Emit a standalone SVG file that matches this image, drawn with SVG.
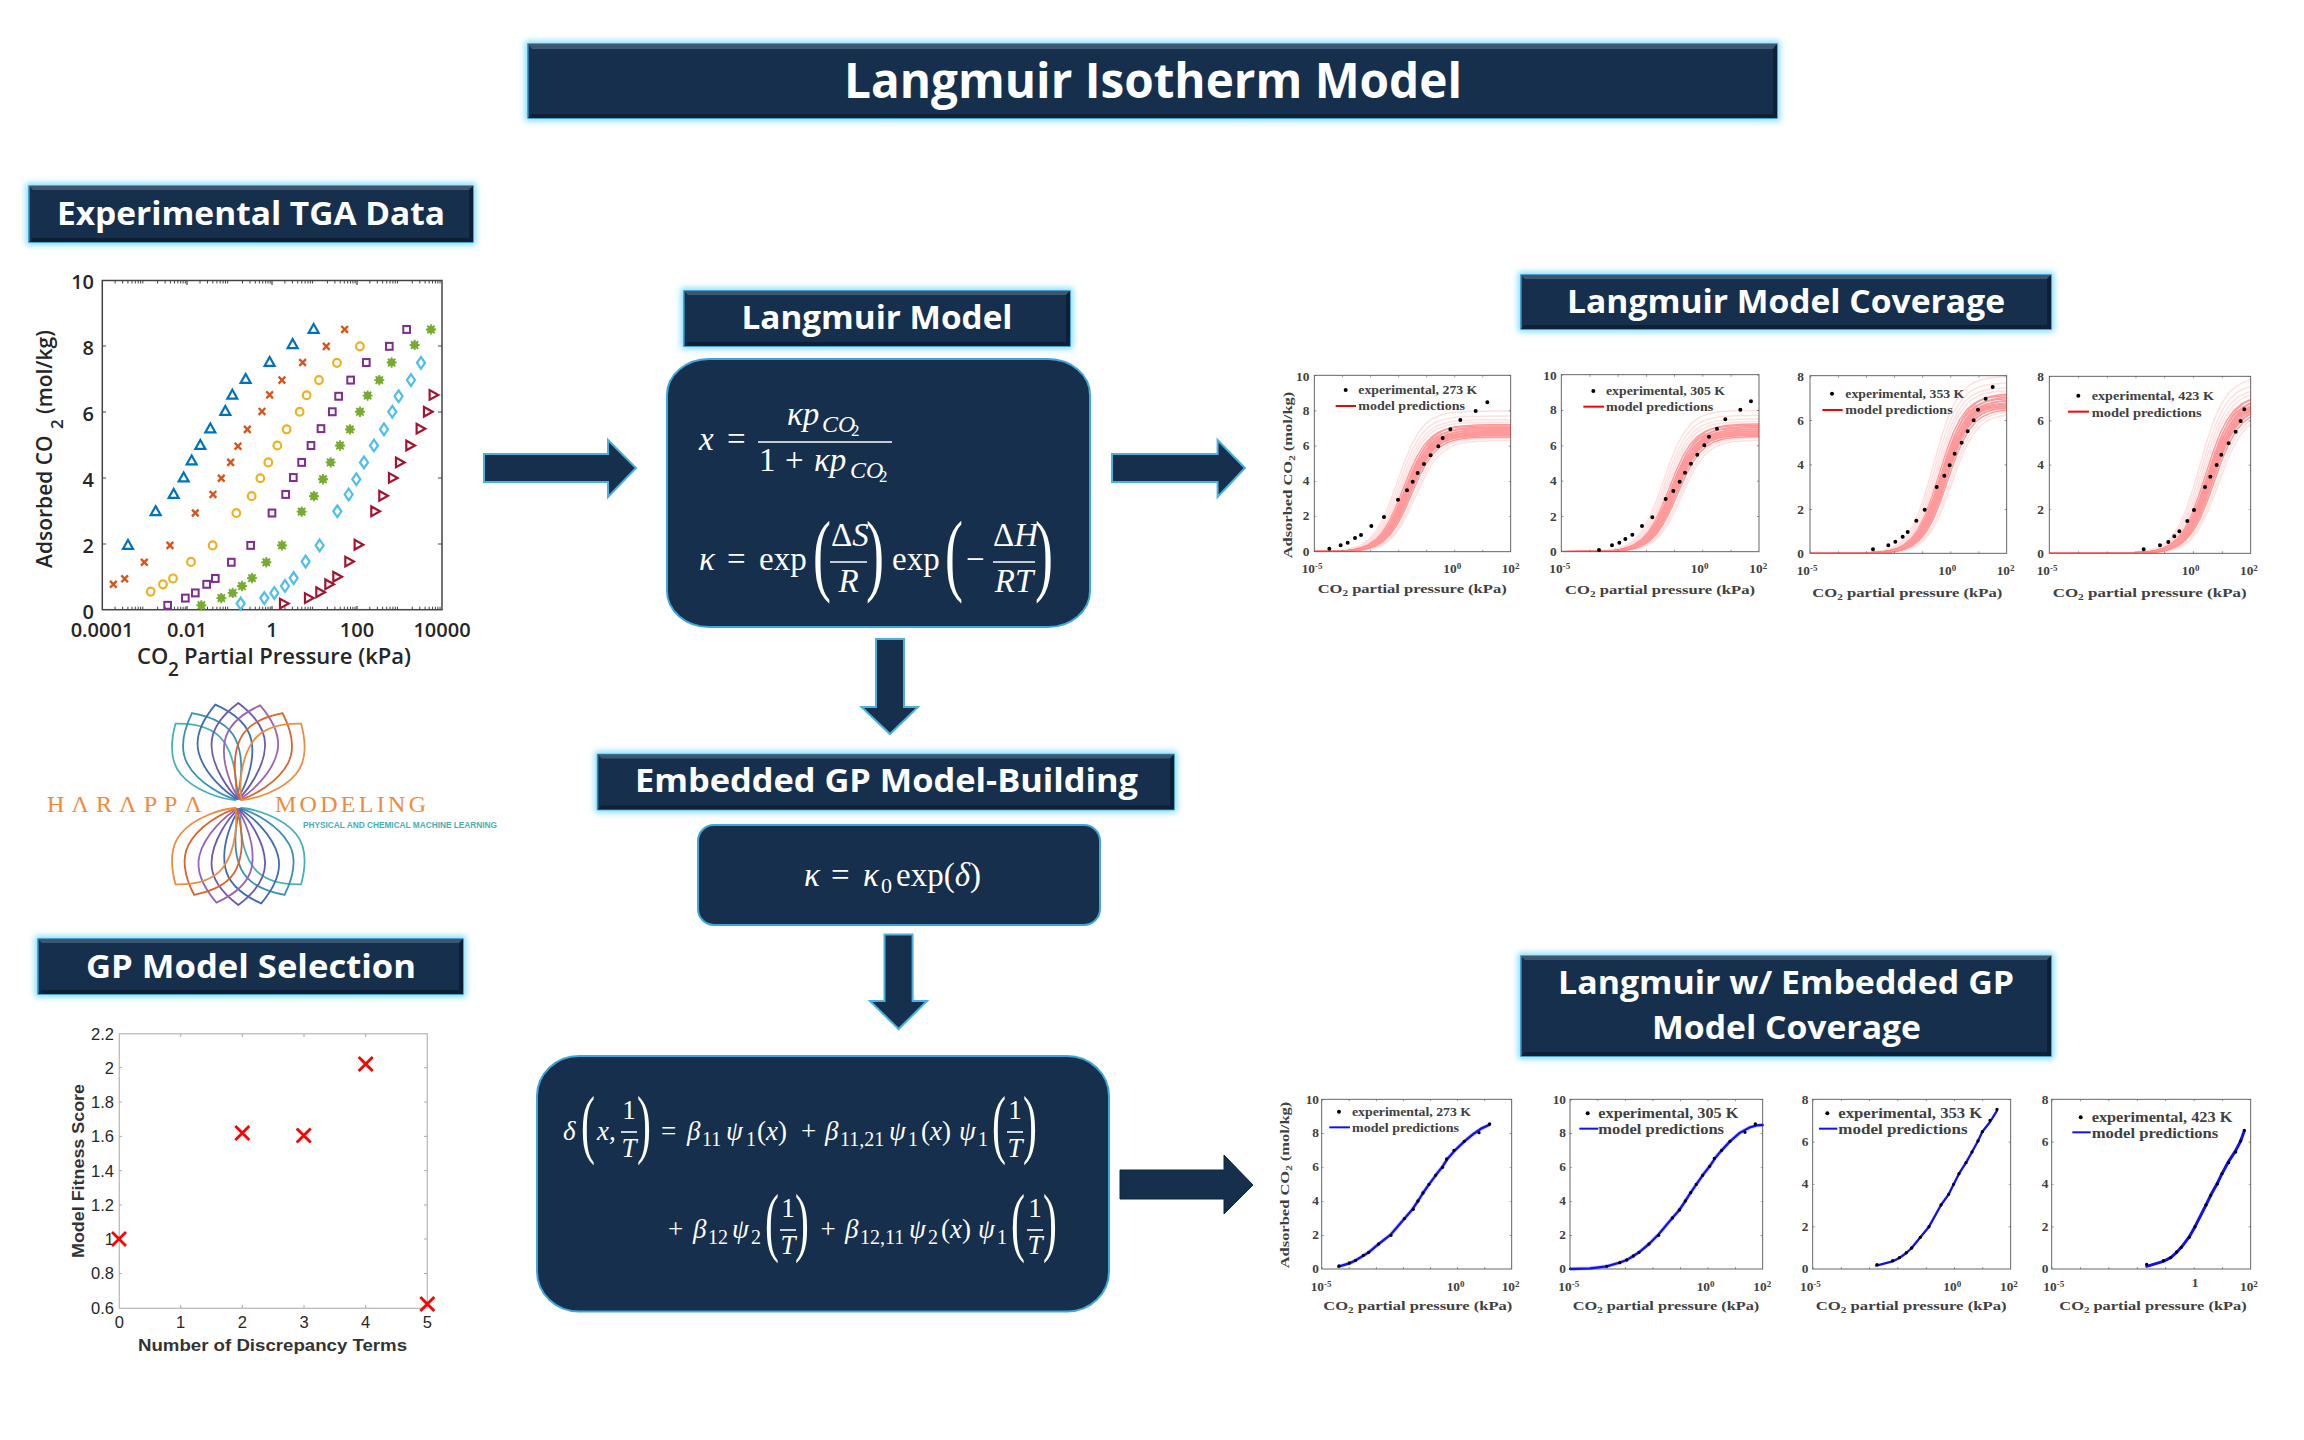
<svg xmlns="http://www.w3.org/2000/svg" width="2304" height="1440" viewBox="0 0 2304 1440">
<style>
text{font-family:"Liberation Sans",sans-serif}
.hg{fill:#7fdcfb;filter:url(#blur)}
.hb{fill:#152f4d;stroke:#2f8fc0;stroke-width:1.5}
.ht{fill:#3e566f}
.hd{fill:#0d2036}
.ht2{font-family:"Open Sans","Noto Sans",sans-serif;font-weight:700;fill:#fff;text-anchor:middle}
.box{fill:#152f4d;stroke:#3fa6d8;stroke-width:2}
.arr{fill:#152f4d;stroke:#4ab0e0;stroke-width:2}
.m,.m tspan{font-family:"Liberation Serif",serif;fill:#fff}
.m{font-size:33px}
.m2{font-size:27px}
.i{font-style:italic}
.bar{stroke:#fff;stroke-width:1.6}
.par{font-family:"Liberation Serif",serif;fill:#fff}
.k{font-family:"Open Sans",sans-serif;font-weight:600;fill:#262626;font-size:20px}
.g{fill:#262626;font-size:16.5px}
.s,.s tspan{font-family:"Liberation Serif",serif;font-weight:700;fill:#404040}
.s{font-size:40px}
.e{text-anchor:end}
.l{font-size:36px}
.fr{fill:#fff;stroke:#666;stroke-width:3}
.tk{fill:none;stroke:#666;stroke-width:6}
.dots{fill:none;stroke:#000;stroke-width:12;stroke-linecap:round}
.c{fill:none;stroke:#f00;vector-effect:non-scaling-stroke;stroke-width:1.5px}
.st{opacity:.4}
.fa{opacity:.12}
.lr{stroke:#f00;stroke-width:6;fill:none}
.lb{stroke:#1212e8;stroke-width:6;fill:none}
.bc{stroke:#1212e8;stroke-width:7;fill:none;stroke-linejoin:round;stroke-linecap:round}
.bh{stroke:#1212e8;stroke-width:12;opacity:.2;fill:none;stroke-linejoin:round}
.mk{fill:none;stroke:none}
.p{fill:none;vector-effect:non-scaling-stroke;stroke-width:1.8px}
</style>
<defs>
<filter id="blur" x="-5%" y="-20%" width="110%" height="140%"><feGaussianBlur stdDeviation="3"/></filter>
<filter id="sf" x="-5%" y="-5%" width="110%" height="110%"><feGaussianBlur stdDeviation="1.5"/></filter>
<marker id="mt" markerUnits="userSpaceOnUse" viewBox="-25 -25 50 50" markerWidth="50" markerHeight="50" orient="0"><path d="M-15 12H15L0-14Z" fill="none" stroke="#0072bd" stroke-width="6.5"/></marker>
<marker id="mx" markerUnits="userSpaceOnUse" viewBox="-25 -25 50 50" markerWidth="50" markerHeight="50" orient="0"><path d="M-10-10 10 10M-10 10 10-10" fill="none" stroke="#d95319" stroke-width="7"/></marker>
<marker id="mo" markerUnits="userSpaceOnUse" viewBox="-25 -25 50 50" markerWidth="50" markerHeight="50" orient="0"><circle r="11.5" fill="none" stroke="#edb120" stroke-width="6.5"/></marker>
<marker id="ms" markerUnits="userSpaceOnUse" viewBox="-25 -25 50 50" markerWidth="50" markerHeight="50" orient="0"><rect x="-10" y="-10" width="20" height="20" fill="none" stroke="#7e2f8e" stroke-width="6"/></marker>
<marker id="mg" markerUnits="userSpaceOnUse" viewBox="-25 -25 50 50" markerWidth="50" markerHeight="50" orient="0"><g stroke="#77ac30" stroke-width="5.5"><circle r="11" fill="#77ac30" stroke="none"/><path d="M-15 0H15M0-15V15M-11-11 11 11M-11 11 11-11"/></g></marker>
<marker id="md" markerUnits="userSpaceOnUse" viewBox="-25 -25 50 50" markerWidth="50" markerHeight="50" orient="0"><path d="M0-17 12 0 0 17-12 0Z" fill="none" stroke="#4dbeee" stroke-width="6.5"/></marker>
<marker id="mr" markerUnits="userSpaceOnUse" viewBox="-25 -25 50 50" markerWidth="50" markerHeight="50" orient="0"><path d="M-12-14V14L14 0Z" fill="none" stroke="#a2142f" stroke-width="6.5"/></marker>
<path id="minor" d="M12.8 0v3M20.3 0v3M25.6 0v3M29.7 0v3M33 0v3M35.9 0v3M38.3 0v3M40.5 0v3M55.3 0v3M62.8 0v3M68.1 0v3M72.2 0v3M75.5 0v3M78.4 0v3M80.8 0v3M83 0v3" stroke="#444" stroke-width="1" fill="none"/>
<path id="lang" class="c" d="M-6 0L-4 .0001-3 .001-2.5 .0032-2 .0099-1.75 .0175-1.5 .0307-1.25 .0532-1 .0909-.75 .151-.5 .24-.25 .36 0 .5 .25 .64 .5 .76 .75 .849 1 .909 1.25 .947 1.5 .969 1.75 .9825 2 .99 2.5 .9968 3 .999 4 .9999 6 1"/>
<g id="fam">
<g class="st">
<use href="#lang" transform="translate(-.15 0) scale(1 -1.02)"/><use href="#lang" transform="translate(-.1 0) scale(1 -1)"/><use href="#lang" transform="translate(-.05 0) scale(1 -.985)"/><use href="#lang" transform="scale(1 -.97)"/><use href="#lang" transform="translate(.05 0) scale(1 -.96)"/><use href="#lang" transform="translate(.1 0) scale(1 -.945)"/><use href="#lang" transform="translate(.15 0) scale(1 -.93)"/><use href="#lang" transform="translate(.02 0) scale(1 -1.01)"/><use href="#lang" transform="translate(-.02 0) scale(1 -.95)"/><use href="#lang" transform="translate(.08 0) scale(1 -.99)"/><use href="#lang" transform="translate(-.08 0) scale(1 -.97)"/><use href="#lang" transform="translate(.12 0) scale(1 -.975)"/><use href="#lang" transform="translate(-.12 0) scale(1 -.955)"/><use href="#lang" transform="translate(-.04 0) scale(1 -1.03)"/><use href="#lang" transform="translate(.03 0) scale(1 -.94)"/>
</g>
<g class="fa">
<use href="#lang" transform="translate(-.35 0) scale(1 -1.14)"/><use href="#lang" transform="translate(-.3 0) scale(1 -1.1)"/><use href="#lang" transform="translate(-.25 0) scale(1 -1.07)"/><use href="#lang" transform="translate(-.2 0) scale(1 -1.05)"/><use href="#lang" transform="translate(.25 0) scale(1 -.92)"/><use href="#lang" transform="translate(.3 0) scale(1 -.9)"/>
</g>
</g>
<path id="petal" class="p" d="M0-1C-.12-.91-.27-.76-.265-.58-.26-.36-.09-.13 0-.05 .09-.13 .26-.36 .265-.58 .27-.76 .12-.91 0-1Z"/>
<g id="petals">
<use href="#petal" stroke="#45b0b5" transform="rotate(-38) scale(102)"/><use href="#petal" stroke="#3a8fb5" transform="rotate(-27) scale(102)"/><use href="#petal" stroke="#3f6cb3" transform="rotate(-13) scale(102)"/><use href="#petal" stroke="#6a5ab0" transform="scale(101)"/><use href="#petal" stroke="#9a62b8" transform="rotate(12.5) scale(101)"/><use href="#petal" stroke="#d9652e" transform="rotate(26) scale(101)"/><use href="#petal" stroke="#f08a3c" transform="rotate(38) scale(102)"/>
</g>
<clipPath id="ca"><rect x="133" y="46" width="589" height="529"/></clipPath>
<clipPath id="cb"><rect x="874" y="44" width="593" height="531"/></clipPath>
<clipPath id="cc"><rect x="90" y="47" width="590" height="533"/></clipPath>
<clipPath id="cd"><rect x="808" y="49" width="604" height="531"/></clipPath>
</defs>
<rect width="2304" height="1440" fill="#fff"/>

<g id="title">
<rect class="hg" x="525" y="41" width="1255" height="80"/>
<rect class="hb" x="528" y="44" width="1249" height="74"/>
<path class="ht" d="M528 44H1777L1773 49H532Z"/><path class="hd" d="M1777 44V118H528L532 114H1773V49Z"/>
<text class="ht2" x="1153" y="98" font-size="48" textLength="618" lengthAdjust="spacingAndGlyphs">Langmuir Isotherm Model</text>
</g>

<g id="header-tga">
<rect class="hg" x="26" y="183" width="450" height="62"/>
<rect class="hb" x="29" y="186" width="444" height="56"/>
<path class="ht" d="M29 186H473L469 190H33Z"/><path class="hd" d="M473 186V242H29L33 238H469V190Z"/>
<text class="ht2" x="251" y="225" font-size="33" textLength="388" lengthAdjust="spacingAndGlyphs">Experimental TGA Data</text>
</g>

<g id="chart-tga">
<rect x="102.3" y="280.5" width="339.7" height="329.2" fill="#fff" stroke="#444" stroke-width="1.5"/>
<use href="#minor" x="102.3" y="280.5"/><use href="#minor" x="187.2" y="280.5"/><use href="#minor" x="272.1" y="280.5"/><use href="#minor" x="357" y="280.5"/>
<use href="#minor" x="102.3" y="606.7"/><use href="#minor" x="187.2" y="606.7"/><use href="#minor" x="272.1" y="606.7"/><use href="#minor" x="357" y="606.7"/>
<path d="M187 281v4M272 281v4M357 281v4M187 610v-4M272 610v-4M357 610v-4M102 346h4M102 412h4M102 478h4M102 544h4M442 346h-4M442 412h-4M442 478h-4M442 544h-4" stroke="#444" stroke-width="1.2" fill="none"/>
<g transform="translate(0 170) scale(.3333 .3444)">
<path class="mk" marker-start="url(#mt)" marker-mid="url(#mt)" marker-end="url(#mt)" d="M384 1088L467 990 521 940 551 892 575 843 601 798 631 750 676 699 697 652 737 606 809 557 878 505 941 461"/>
<path class="mk" marker-start="url(#mx)" marker-mid="url(#mx)" marker-end="url(#mx)" d="M340 1203L374 1187 433 1139 510 1090 586 996 639 942 664 895 692 849 714 802 742 753 786 701 809 653 846 610 908 559 979 512 1034 463"/>
<path class="mk" marker-start="url(#mo)" marker-mid="url(#mo)" marker-end="url(#mo)" d="M452 1224L489 1203 519 1186 573 1138 638 1090 709 996 755 947 781 895 805 849 832 800 860 753 899 702 920 654 957 610 1011 560 1080 512"/>
<path class="mk" marker-start="url(#ms)" marker-mid="url(#ms)" marker-end="url(#ms)" d="M503 1264L556 1243 586 1228 620 1203 646 1186 694 1139 752 1090 816 996 857 942 880 893 905 849 933 800 963 751 997 702 1016 657 1052 610 1099 559 1168 512 1220 463"/>
<path class="mk" marker-start="url(#mg)" marker-mid="url(#mg)" marker-end="url(#mg)" d="M604 1264L664 1243 698 1228 726 1208 756 1185 799 1139 846 1090 905 992 942 947 969 898 992 849 1020 800 1050 753 1080 702 1103 655 1138 610 1175 559 1244 508 1293 463"/>
<path class="mk" marker-start="url(#md)" marker-mid="url(#md)" marker-end="url(#md)" d="M722 1259L793 1243 823 1228 855 1208 881 1185 917 1137 959 1090 1012 991 1046 942 1069 898 1092 849 1122 800 1152 753 1177 702 1196 657 1233 610 1263 560"/>
<path class="mk" marker-start="url(#mr)" marker-mid="url(#mr)" marker-end="url(#mr)" d="M852 1259L927 1243 961 1226 988 1203 1012 1181 1048 1137 1076 1088 1126 991 1150 946 1179 894 1200 849 1231 800 1262 751 1284 702 1301 653"/>
</g>
<text class="k e" x="94" y="289">10</text><text class="k e" x="94" y="355">8</text><text class="k e" x="94" y="420.5">6</text><text class="k e" x="94" y="486.5">4</text><text class="k e" x="94" y="552.5">2</text><text class="k e" x="94" y="618.5">0</text>
<text class="k" x="102" y="637" text-anchor="middle">0.0001</text><text class="k" x="187" y="637" text-anchor="middle">0.01</text><text class="k" x="272" y="637" text-anchor="middle">1</text><text class="k" x="357" y="637" text-anchor="middle">100</text><text class="k" x="442" y="637" text-anchor="middle">10000</text>
<text class="k" y="664" style="font-size:22px"><tspan x="137">CO</tspan><tspan x="168" dy="12" font-size="19">2</tspan><tspan x="184" dy="-12">Partial Pressure (kPa)</tspan></text>
<text class="k" transform="translate(52 568) rotate(-90)" style="font-size:21px"><tspan x="0">Adsorbed CO</tspan><tspan x="139" dy="11" font-size="17">2</tspan><tspan x="154" dy="-11">(mol/kg)</tspan></text>
</g>

<g id="logo">
<use href="#petals" transform="translate(238.3 804)"/>
<use href="#petals" transform="translate(238.3 804) rotate(180)"/>
<text x="47" y="811.5" font-size="24" fill="#f08a3c" textLength="155" style="font-family:'Liberation Serif',serif">HΛRΛPPΛ</text>
<text x="275" y="811.5" font-size="24" fill="#f08a3c" textLength="151" style="font-family:'Liberation Serif',serif">MODELING</text>
<text x="303" y="827.5" font-size="9.5" font-weight="700" fill="#45b0b5" textLength="194" lengthAdjust="spacingAndGlyphs">PHYSICAL AND CHEMICAL MACHINE LEARNING</text>
</g>

<g id="header-gp">
<rect class="hg" x="35" y="936" width="431" height="61"/>
<rect class="hb" x="38" y="939" width="425" height="55"/>
<path class="ht" d="M38 939H463L459 943H42Z"/><path class="hd" d="M463 939V994H38L42 990H459V943Z"/>
<text class="ht2" x="251" y="978" font-size="32" textLength="330" lengthAdjust="spacingAndGlyphs">GP Model Selection</text>
</g>

<g id="chart-gp">
<rect x="119.3" y="1033.8" width="308" height="274.5" fill="#fff" stroke="#bbb" stroke-width="1.3"/>
<path d="M119 1067.7h3M119 1102h3M119 1136.4h3M119 1170.7h3M119 1205h3M119 1239h3M119 1273.5h3M427 1067.7h-3M427 1102h-3M427 1136.4h-3M427 1170.7h-3M427 1205h-3M427 1239h-3M427 1273.5h-3M180.7 1308v-3M242.3 1308v-3M304 1308v-3M365.7 1308v-3M180.7 1034v3M242.3 1034v3M304 1034v3M365.7 1034v3" stroke="#aaa" stroke-width="1" fill="none"/>
<g class="g">
<text class="g e" x="114" y="1039.5">2.2</text><text class="g e" x="114" y="1073.5">2</text><text class="g e" x="114" y="1108">1.8</text><text class="g e" x="114" y="1142">1.6</text><text class="g e" x="114" y="1176.5">1.4</text><text class="g e" x="114" y="1210.5">1.2</text><text class="g e" x="114" y="1245">1</text><text class="g e" x="114" y="1279">0.8</text><text class="g e" x="114" y="1313.5">0.6</text>
<text class="g" x="119.3" y="1328" text-anchor="middle">0</text><text class="g" x="180.7" y="1328" text-anchor="middle">1</text><text class="g" x="242.3" y="1328" text-anchor="middle">2</text><text class="g" x="304" y="1328" text-anchor="middle">3</text><text class="g" x="365.7" y="1328" text-anchor="middle">4</text><text class="g" x="427.3" y="1328" text-anchor="middle">5</text>
</g>
<text x="138" y="1351" font-size="16.5" font-weight="700" fill="#333" textLength="269" lengthAdjust="spacingAndGlyphs">Number of Discrepancy Terms</text>
<text transform="translate(84 1258) rotate(-90)" font-size="17" font-weight="700" fill="#333" textLength="174" lengthAdjust="spacingAndGlyphs">Model Fitness Score</text>
<path d="M112 1232l14 14M112 1246l14-14M235.3 1126l14 14M235.3 1140l14-14M296.7 1128.5l14 14M296.7 1142.5l14-14M358.7 1057l14 14M358.7 1071l14-14M420.3 1297l14 14M420.3 1311l14-14" stroke="#f00" stroke-width="2.8" fill="none"/>
</g>

<g id="connectors">
<path class="arr" d="M484 454H608V440L636 468 608 497V482H484Z"/>
<path class="arr" d="M1112 454H1217.6V440L1245 468 1217.6 497V482H1112Z"/>
<path class="arr" d="M876 639H904V707H918L890 734 861.5 707H876Z"/>
<path class="arr" d="M884.5 934.4H912.6V1001H927L898.6 1029 870 1001H884.5Z"/>
<path class="arr" style="stroke:#0f2740;stroke-width:1" d="M1120 1170H1224V1155L1253 1185 1224 1214V1199H1120Z"/>
</g>

<g id="header-langmuir">
<rect class="hg" x="681" y="288" width="392" height="61"/>
<rect class="hb" x="684" y="291" width="386" height="55"/>
<path class="ht" d="M684 291H1070L1066 295H688Z"/><path class="hd" d="M1070 291V346H684L688 342H1066V295Z"/>
<text class="ht2" x="877" y="329" font-size="32" textLength="271" lengthAdjust="spacingAndGlyphs">Langmuir Model</text>
</g>

<g id="langmuir-box">
<rect class="box" x="667" y="359" width="423" height="268" rx="42" ry="36"/>
<text class="m i" x="699" y="450">x</text><text class="m" x="727" y="450">=</text>
<text class="m" x="787" y="425"><tspan class="i">κp</tspan><tspan class="i" x="822" dy="7" font-size="24">CO</tspan><tspan x="851" dy="4" font-size="17">2</tspan></text>
<line class="bar" x1="758" y1="442" x2="892" y2="442"/>
<text class="m" x="759" y="471">1<tspan x="785">+</tspan><tspan class="i" x="814">κp</tspan><tspan class="i" x="850" dy="7" font-size="24">CO</tspan><tspan x="879" dy="4" font-size="17">2</tspan></text>
<text class="m i" x="699" y="570">κ</text><text class="m" x="727" y="570">=</text><text class="m" x="759" y="570">exp</text>
<text class="par" transform="translate(813 584) scale(.6 1)" font-size="90">(</text>
<text class="m" x="831" y="546">Δ<tspan class="i">S</tspan></text><line class="bar" x1="830" y1="562" x2="867" y2="562"/><text class="m i" x="848.5" y="592" text-anchor="middle">R</text>
<text class="par" transform="translate(866 584) scale(.6 1)" font-size="90">)</text>
<text class="m" x="892" y="570">exp</text>
<text class="par" transform="translate(945 584) scale(.6 1)" font-size="90">(</text>
<text class="m" x="966" y="570">−</text>
<text class="m" x="993" y="546">Δ<tspan class="i">H</tspan></text><line class="bar" x1="993" y1="562" x2="1035" y2="562"/><text class="m i" x="1014" y="592" text-anchor="middle">RT</text>
<text class="par" transform="translate(1035 584) scale(.6 1)" font-size="90">)</text>
</g>

<g id="header-embedded">
<rect class="hg" x="595" y="751.5" width="582" height="61"/>
<rect class="hb" x="597.6" y="754.5" width="576.4" height="55"/>
<path class="ht" d="M597.6 754.5H1174L1170 758.5H601.6Z"/><path class="hd" d="M1174 754.5V809.5H597.6L601.6 805.5H1170V758.5Z"/>
<text class="ht2" x="886.5" y="792" font-size="32" textLength="503" lengthAdjust="spacingAndGlyphs">Embedded GP Model-Building</text>
</g>

<g id="kappa-box">
<rect class="box" x="698" y="825" width="402" height="100" rx="16"/>
<text class="m" x="804" y="885.5" font-size="32"><tspan class="i">κ</tspan><tspan x="831">=</tspan><tspan class="i" x="863">κ</tspan><tspan x="881" dy="7" font-size="22">0</tspan><tspan x="896" dy="-7">exp(</tspan><tspan class="i">δ</tspan><tspan>)</tspan></text>
</g>

<g id="gp-equation-box">
<rect class="box" x="537" y="1056" width="572" height="255.5" rx="42" ry="40"/>
<g class="m2">
<text class="m m2 i" x="563" y="1139.5">δ</text>
<text class="par" transform="translate(581 1149) scale(.55 1)" font-size="76">(</text>
<text class="m m2 i" x="597" y="1139.5">x,</text>
<text class="m m2" x="629" y="1119" text-anchor="middle">1</text><line class="bar" x1="621" y1="1132" x2="637" y2="1132"/><text class="m m2 i" x="629" y="1156.5" text-anchor="middle">T</text>
<text class="par" transform="translate(637 1149) scale(.55 1)" font-size="76">)</text>
<text class="m m2" x="661" y="1139.5">=</text>
<text class="m m2" x="687" y="1139.5"><tspan class="i">β</tspan><tspan x="702" dy="6" font-size="20">11</tspan><tspan class="i" x="726" dy="-6">ψ</tspan><tspan x="746" dy="6" font-size="20">1</tspan><tspan x="757" dy="-6">(</tspan><tspan class="i">x</tspan><tspan>)</tspan><tspan x="801">+</tspan><tspan class="i" x="825">β</tspan><tspan x="840" dy="6" font-size="20">11,21</tspan><tspan class="i" x="889" dy="-6">ψ</tspan><tspan x="908" dy="6" font-size="20">1</tspan><tspan x="921" dy="-6">(</tspan><tspan class="i">x</tspan><tspan>)</tspan><tspan class="i" x="959">ψ</tspan><tspan x="978" dy="6" font-size="20">1</tspan></text>
<text class="par" transform="translate(992 1149) scale(.55 1)" font-size="76">(</text>
<text class="m m2" x="1015" y="1119" text-anchor="middle">1</text><line class="bar" x1="1007" y1="1132" x2="1023" y2="1132"/><text class="m m2 i" x="1015" y="1156.5" text-anchor="middle">T</text>
<text class="par" transform="translate(1023 1149) scale(.55 1)" font-size="76">)</text>
<text class="m m2" x="668" y="1237.5">+<tspan class="i" x="693">β</tspan><tspan x="708" dy="6" font-size="20">12</tspan><tspan class="i" x="732" dy="-6">ψ</tspan><tspan x="751" dy="6" font-size="20">2</tspan></text>
<text class="par" transform="translate(765 1247) scale(.55 1)" font-size="76">(</text>
<text class="m m2" x="788" y="1217" text-anchor="middle">1</text><line class="bar" x1="780" y1="1230" x2="796" y2="1230"/><text class="m m2 i" x="788" y="1254" text-anchor="middle">T</text>
<text class="par" transform="translate(795 1247) scale(.55 1)" font-size="76">)</text>
<text class="m m2" x="820.5" y="1237.5">+<tspan class="i" x="845">β</tspan><tspan x="860" dy="6" font-size="20">12,11</tspan><tspan class="i" x="909" dy="-6">ψ</tspan><tspan x="928" dy="6" font-size="20">2</tspan><tspan x="941" dy="-6">(</tspan><tspan class="i">x</tspan><tspan>)</tspan><tspan class="i" x="978">ψ</tspan><tspan x="997" dy="6" font-size="20">1</tspan></text>
<text class="par" transform="translate(1011 1247) scale(.55 1)" font-size="76">(</text>
<text class="m m2" x="1035" y="1217" text-anchor="middle">1</text><line class="bar" x1="1027" y1="1230" x2="1043" y2="1230"/><text class="m m2 i" x="1035" y="1254" text-anchor="middle">T</text>
<text class="par" transform="translate(1043 1247) scale(.55 1)" font-size="76">)</text>
</g>
</g>

<g id="header-coverage">
<rect class="hg" x="1518" y="272" width="536" height="60"/>
<rect class="hb" x="1521" y="275" width="530" height="54"/>
<path class="ht" d="M1521 275H2051L2047 279H1525Z"/><path class="hd" d="M2051 275V329H1521L1525 325H2047V279Z"/>
<text class="ht2" x="1786" y="313" font-size="33" textLength="438" lengthAdjust="spacingAndGlyphs">Langmuir Model Coverage</text>
</g>

<g id="header-gp-coverage">
<rect class="hg" x="1518" y="953" width="536" height="106"/>
<rect class="hb" x="1521" y="956" width="530" height="100"/>
<path class="ht" d="M1521 956H2051L2047 960H1525Z"/><path class="hd" d="M2051 956V1056H1521L1525 1052H2047V960Z"/>
<text class="ht2" x="1786" y="994" font-size="33" textLength="456" lengthAdjust="spacingAndGlyphs">Langmuir w/ Embedded GP</text>
<text class="ht2" x="1786.5" y="1039" font-size="33" textLength="269" lengthAdjust="spacingAndGlyphs">Model Coverage</text>
</g>

<g id="chart-273" transform="translate(1270 360) scale(.33333)">
<rect class="fr" x="133" y="46" width="589" height="529"/>
<g clip-path="url(#ca)"><g filter="url(#sf)"><use href="#fam" transform="translate(412 575) scale(84.1 370)"/></g></g>
<line class="tk" x1="133" y1="572" x2="722" y2="572" stroke-dasharray="2 82.1"/><line class="tk" x1="133" y1="49" x2="722" y2="49" stroke-dasharray="2 82.1"/><line class="tk" x1="136" y1="46" x2="136" y2="575" stroke-dasharray="2 103.8"/><line class="tk" x1="719" y1="46" x2="719" y2="575" stroke-dasharray="2 103.8"/>
<path class="dots" d="M178 566h0M212 556h0M233 548h0M255 534h0M273 525h0M304 498h0M342 471h0M384 419h0M411 391h0M428 365h0M443 339h0M462 312h0M482 286h0M505 259h0M518 234h0M541 208h0M571 180h0M617 153h0M652 127h0"/>
<text class="s e" x="118" y="62">10</text><text class="s e" x="118" y="165">8</text><text class="s e" x="118" y="270">6</text><text class="s e" x="118" y="376">4</text><text class="s e" x="118" y="481">2</text><text class="s e" x="118" y="587">0</text>
<text class="s" x="95" y="640">10<tspan font-size="27" dy="-13">-5</tspan></text><text class="s" x="520" y="640">10<tspan font-size="27" dy="-13">0</tspan></text><text class="s" x="695" y="640">10<tspan font-size="27" dy="-13">2</tspan></text>
<text class="s" x="143" y="700" textLength="567" lengthAdjust="spacingAndGlyphs">CO<tspan font-size="27" dy="9">2</tspan><tspan dy="-9"> partial pressure (kPa)</tspan></text>
<text class="s" transform="translate(65 595) rotate(-90)" textLength="500" lengthAdjust="spacingAndGlyphs">Adsorbed CO<tspan font-size="27" dy="9">2</tspan><tspan dy="-9"> (mol/kg)</tspan></text>
<path class="dots" d="M227 90h0"/><line class="lr" x1="197" y1="138" x2="258" y2="138"/>
<text class="s l" x="265" y="103" textLength="357" lengthAdjust="spacingAndGlyphs">experimental, 273 K</text><text class="s l" x="265" y="150" textLength="320" lengthAdjust="spacingAndGlyphs">model predictions</text>
</g>

<g id="chart-305" transform="translate(1270 360) scale(.33333)">
<rect class="fr" x="874" y="44" width="593" height="531"/>
<g clip-path="url(#cb)"><g filter="url(#sf)"><use href="#fam" transform="translate(1210 575) scale(84.7 372)"/></g></g>
<line class="tk" x1="874" y1="572" x2="1467" y2="572" stroke-dasharray="2 82.7"/><line class="tk" x1="874" y1="47" x2="1467" y2="47" stroke-dasharray="2 82.7"/><line class="tk" x1="877" y1="44" x2="877" y2="575" stroke-dasharray="2 104.2"/><line class="tk" x1="1464" y1="44" x2="1464" y2="575" stroke-dasharray="2 104.2"/>
<path class="dots" d="M987 570h0M1026 556h0M1048 548h0M1066 537h0M1087 524h0M1116 498h0M1147 472h0M1187 417h0M1210 393h0M1229 365h0M1245 338h0M1263 311h0M1282 284h0M1303 256h0M1317 230h0M1341 206h0M1366 178h0M1411 149h0M1443 124h0"/>
<text class="s e" x="860" y="60">10</text><text class="s e" x="860" y="163">8</text><text class="s e" x="860" y="269">6</text><text class="s e" x="860" y="376">4</text><text class="s e" x="860" y="482">2</text><text class="s e" x="860" y="588">0</text>
<text class="s" x="838" y="640">10<tspan font-size="27" dy="-13">-5</tspan></text><text class="s" x="1262" y="640">10<tspan font-size="27" dy="-13">0</tspan></text><text class="s" x="1438" y="640">10<tspan font-size="27" dy="-13">2</tspan></text>
<text class="s" x="885" y="702" textLength="570" lengthAdjust="spacingAndGlyphs">CO<tspan font-size="27" dy="9">2</tspan><tspan dy="-9"> partial pressure (kPa)</tspan></text>
<path class="dots" d="M970 93h0"/><line class="lr" x1="940" y1="140" x2="1002" y2="140"/>
<text class="s l" x="1008" y="105" textLength="357" lengthAdjust="spacingAndGlyphs">experimental, 305 K</text><text class="s l" x="1008" y="153" textLength="322" lengthAdjust="spacingAndGlyphs">model predictions</text>
</g>

<g id="chart-353" transform="translate(1780 360) scale(.33333)">
<rect class="fr" x="90" y="47" width="590" height="533"/>
<g clip-path="url(#cc)"><g filter="url(#sf)"><use href="#fam" transform="translate(490 580) scale(84.3 466)"/></g></g>
<line class="tk" x1="90" y1="577" x2="680" y2="577" stroke-dasharray="2 82.3"/><line class="tk" x1="90" y1="50" x2="680" y2="50" stroke-dasharray="2 82.3"/><line class="tk" x1="93" y1="47" x2="93" y2="580" stroke-dasharray="2 131.3"/><line class="tk" x1="677" y1="47" x2="677" y2="580" stroke-dasharray="2 131.3"/>
<path class="dots" d="M279 568h0M325 556h0M346 545h0M368 530h0M383 516h0M409 482h0M434 449h0M470 381h0M493 347h0M509 316h0M524 281h0M545 248h0M563 214h0M581 181h0M594 149h0M617 116h0M638 81h0"/>
<text class="s e" x="72" y="62">8</text><text class="s e" x="72" y="194">6</text><text class="s e" x="72" y="328">4</text><text class="s e" x="72" y="461">2</text><text class="s e" x="72" y="593">0</text>
<text class="s" x="50" y="645">10<tspan font-size="27" dy="-13">-5</tspan></text><text class="s" x="475" y="645">10<tspan font-size="27" dy="-13">0</tspan></text><text class="s" x="650" y="645">10<tspan font-size="27" dy="-13">2</tspan></text>
<text class="s" x="97" y="710" textLength="570" lengthAdjust="spacingAndGlyphs">CO<tspan font-size="27" dy="9">2</tspan><tspan dy="-9"> partial pressure (kPa)</tspan></text>
<path class="dots" d="M156 101h0"/><line class="lr" x1="127" y1="150" x2="188" y2="150"/>
<text class="s l" x="196" y="113" textLength="357" lengthAdjust="spacingAndGlyphs">experimental, 353 K</text><text class="s l" x="196" y="163" textLength="322" lengthAdjust="spacingAndGlyphs">model predictions</text>
</g>

<g id="chart-423" transform="translate(1780 360) scale(.33333)">
<rect class="fr" x="808" y="49" width="604" height="531"/>
<g clip-path="url(#cd)"><g filter="url(#sf)"><use href="#fam" transform="translate(1290 580) scale(86.3 464)"/></g></g>
<line class="tk" x1="808" y1="577" x2="1412" y2="577" stroke-dasharray="2 84.3"/><line class="tk" x1="808" y1="52" x2="1412" y2="52" stroke-dasharray="2 84.3"/><line class="tk" x1="811" y1="49" x2="811" y2="580" stroke-dasharray="2 130.8"/><line class="tk" x1="1409" y1="49" x2="1409" y2="580" stroke-dasharray="2 130.8"/>
<path class="dots" d="M1091 568h0M1140 556h0M1165 546h0M1183 529h0M1198 514h0M1222 483h0M1242 450h0M1275 381h0M1291 350h0M1310 315h0M1324 284h0M1346 250h0M1367 215h0M1382 183h0M1393 148h0"/>
<text class="s e" x="792" y="63">8</text><text class="s e" x="792" y="196">6</text><text class="s e" x="792" y="328">4</text><text class="s e" x="792" y="461">2</text><text class="s e" x="792" y="593">0</text>
<text class="s" x="770" y="645">10<tspan font-size="27" dy="-13">-5</tspan></text><text class="s" x="1205" y="645">10<tspan font-size="27" dy="-13">0</tspan></text><text class="s" x="1380" y="645">10<tspan font-size="27" dy="-13">2</tspan></text>
<text class="s" x="818" y="710" textLength="582" lengthAdjust="spacingAndGlyphs">CO<tspan font-size="27" dy="9">2</tspan><tspan dy="-9"> partial pressure (kPa)</tspan></text>
<path class="dots" d="M895 107h0"/><line class="lr" x1="864" y1="155" x2="927" y2="155"/>
<text class="s l" x="935" y="119" textLength="367" lengthAdjust="spacingAndGlyphs">experimental, 423 K</text><text class="s l" x="935" y="170" textLength="330" lengthAdjust="spacingAndGlyphs">model predictions</text>
</g>

<g id="chart-gp-273" transform="translate(1270 1090) scale(.33333)">
<rect class="fr" x="155" y="28" width="570" height="509"/>
<line class="tk" x1="155" y1="534" x2="725" y2="534" stroke-dasharray="2 79.4"/><line class="tk" x1="155" y1="31" x2="725" y2="31" stroke-dasharray="2 79.4"/><line class="tk" x1="158" y1="28" x2="158" y2="537" stroke-dasharray="2 99.8"/><line class="tk" x1="722" y1="28" x2="722" y2="537" stroke-dasharray="2 99.8"/>
<path class="bh" d="M205 530L238 520 257 511 280 497 296 487 326 462 363 433 403 386 425 361 444 333 459 309 477 283 497 256 516 232 532 207 555 181 583 154 610 132 635 115 659 104"/>
<path class="bc" d="M205 530L238 520 257 511 280 497 296 487 326 462 363 433 403 386 425 361 444 333 459 309 477 283 497 256 516 232 532 207 555 181 583 154 610 132 635 115 659 104"/>
<path class="dots" style="stroke-width:10" d="M207 528h0M238 519h0M257 511h0M280 496h0M296 487h0M326 462h0M363 436h0M403 386h0M430 358h0M444 333h0M459 309h0M477 283h0M497 256h0M518 232h0M530 207h0M552 181h0M583 154h0M627 128h0M659 102h0"/>
<text class="s e" x="147" y="41">10</text><text class="s e" x="147" y="141">8</text><text class="s e" x="147" y="243">6</text><text class="s e" x="147" y="345">4</text><text class="s e" x="147" y="447">2</text><text class="s e" x="147" y="549">0</text>
<text class="s" x="122" y="603">10<tspan font-size="27" dy="-13">-5</tspan></text><text class="s" x="530" y="603">10<tspan font-size="27" dy="-13">0</tspan></text><text class="s" x="695" y="603">10<tspan font-size="27" dy="-13">2</tspan></text>
<text class="s" x="160" y="660" textLength="567" lengthAdjust="spacingAndGlyphs">CO<tspan font-size="27" dy="9">2</tspan><tspan dy="-9"> partial pressure (kPa)</tspan></text>
<text class="s" transform="translate(58 535) rotate(-90)" textLength="500" lengthAdjust="spacingAndGlyphs">Adsorbed CO<tspan font-size="27" dy="9">2</tspan><tspan dy="-9"> (mol/kg)</tspan></text>
<path class="dots" d="M207 65h0"/><line class="lb" x1="178" y1="112" x2="240" y2="112"/>
<text class="s l" x="246" y="78" textLength="357" lengthAdjust="spacingAndGlyphs">experimental, 273 K</text><text class="s l" x="246" y="125" textLength="321" lengthAdjust="spacingAndGlyphs">model predictions</text>
</g>

<g id="chart-gp-305" transform="translate(1270 1090) scale(.33333)">
<rect class="fr" x="900" y="28" width="578" height="509"/>
<line class="tk" x1="900" y1="534" x2="1478" y2="534" stroke-dasharray="2 80.6"/><line class="tk" x1="900" y1="31" x2="1478" y2="31" stroke-dasharray="2 80.6"/><line class="tk" x1="903" y1="28" x2="903" y2="537" stroke-dasharray="2 99.8"/><line class="tk" x1="1475" y1="28" x2="1475" y2="537" stroke-dasharray="2 99.8"/>
<path class="bh" d="M900 537L960 535 1010 529 1049 518 1070 510 1090 498 1107 487 1137 462 1166 433 1207 384 1228 360 1246 333 1262 308 1279 283 1298 256 1319 229 1335 205 1355 181 1380 154 1410 128 1440 112 1460 106 1478 105"/>
<path class="bc" d="M900 537L960 535 1010 529 1049 518 1070 510 1090 498 1107 487 1137 462 1166 433 1207 384 1228 360 1246 333 1262 308 1279 283 1298 256 1319 229 1335 205 1355 181 1380 154 1410 128 1440 112 1460 106 1478 105"/>
<path class="dots" style="stroke-width:10" d="M1010 529h0M1049 518h0M1070 510h0M1090 498h0M1107 487h0M1137 462h0M1166 436h0M1207 384h0M1228 360h0M1246 333h0M1262 308h0M1279 283h0M1298 256h0M1319 229h0M1333 205h0M1355 181h0M1380 154h0M1425 127h0M1456 102h0"/>
<text class="s e" x="888" y="41">10</text><text class="s e" x="888" y="141">8</text><text class="s e" x="888" y="243">6</text><text class="s e" x="888" y="345">4</text><text class="s e" x="888" y="447">2</text><text class="s e" x="888" y="549">0</text>
<text class="s" x="865" y="603">10<tspan font-size="27" dy="-13">-5</tspan></text><text class="s" x="1280" y="603">10<tspan font-size="27" dy="-13">0</tspan></text><text class="s" x="1450" y="603">10<tspan font-size="27" dy="-13">2</tspan></text>
<text class="s" x="908" y="660" textLength="560" lengthAdjust="spacingAndGlyphs">CO<tspan font-size="27" dy="9">2</tspan><tspan dy="-9"> partial pressure (kPa)</tspan></text>
<path class="dots" d="M953 70h0"/><line class="lb" x1="928" y1="116" x2="985" y2="116"/>
<text class="s l" x="985" y="85" textLength="420" lengthAdjust="spacingAndGlyphs" style="font-size:42px">experimental, 305 K</text><text class="s l" x="985" y="133" textLength="377" lengthAdjust="spacingAndGlyphs" style="font-size:42px">model predictions</text>
</g>

<g id="chart-gp-353" transform="translate(1780 1090) scale(.33333)">
<rect class="fr" x="98" y="28" width="594" height="509"/>
<line class="tk" x1="98" y1="534" x2="692" y2="534" stroke-dasharray="2 82.9"/><line class="tk" x1="98" y1="31" x2="692" y2="31" stroke-dasharray="2 82.9"/><line class="tk" x1="101" y1="28" x2="101" y2="537" stroke-dasharray="2 125.2"/><line class="tk" x1="689" y1="28" x2="689" y2="537" stroke-dasharray="2 125.2"/>
<path class="bc" d="M289 527L338 514 358 504 379 489 395 474 421 442 447 410 483 345 506 313 521 283 537 251 558 218 576 186 594 153 607 125 630 96 651 62"/>
<path class="dots" style="stroke-width:10" d="M291 524h0M338 512h0M358 503h0M379 488h0M395 474h0M421 442h0M447 410h0M483 345h0M506 313h0M521 283h0M537 251h0M558 218h0M576 186h0M594 153h0M607 125h0M630 91h0M651 58h0"/>
<text class="s e" x="85" y="42">8</text><text class="s e" x="85" y="168">6</text><text class="s e" x="85" y="295">4</text><text class="s e" x="85" y="422">2</text><text class="s e" x="85" y="549">0</text>
<text class="s" x="60" y="603">10<tspan font-size="27" dy="-13">-5</tspan></text><text class="s" x="490" y="603">10<tspan font-size="27" dy="-13">0</tspan></text><text class="s" x="660" y="603">10<tspan font-size="27" dy="-13">2</tspan></text>
<text class="s" x="107" y="660" textLength="573" lengthAdjust="spacingAndGlyphs">CO<tspan font-size="27" dy="9">2</tspan><tspan dy="-9"> partial pressure (kPa)</tspan></text>
<path class="dots" d="M142 70h0"/><line class="lb" x1="117" y1="116" x2="172" y2="116"/>
<text class="s l" x="175" y="85" textLength="432" lengthAdjust="spacingAndGlyphs" style="font-size:42px">experimental, 353 K</text><text class="s l" x="175" y="133" textLength="388" lengthAdjust="spacingAndGlyphs" style="font-size:42px">model predictions</text>
</g>

<g id="chart-gp-423" transform="translate(1780 1090) scale(.33333)">
<rect class="fr" x="815" y="28" width="597" height="509"/>
<line class="tk" x1="815" y1="534" x2="1412" y2="534" stroke-dasharray="2 83.3"/><line class="tk" x1="815" y1="31" x2="1412" y2="31" stroke-dasharray="2 83.3"/><line class="tk" x1="818" y1="28" x2="818" y2="537" stroke-dasharray="2 125.2"/><line class="tk" x1="1409" y1="28" x2="1409" y2="537" stroke-dasharray="2 125.2"/>
<path class="bc" style="stroke-width:9" d="M1100 529L1150 514 1172 503 1190 487 1204 472 1228 440 1245 410 1278 345 1292 316 1312 280 1326 251 1346 214 1367 182 1382 153 1393 122"/>
<path class="dots" style="stroke-width:10" d="M1100 523h0M1150 512h0M1172 503h0M1190 486h0M1204 472h0M1228 442h0M1245 410h0M1278 345h0M1292 316h0M1312 282h0M1326 251h0M1346 218h0M1367 186h0M1382 153h0M1393 121h0"/>
<text class="s e" x="805" y="42">8</text><text class="s e" x="805" y="168">6</text><text class="s e" x="805" y="295">4</text><text class="s e" x="805" y="422">2</text><text class="s e" x="805" y="549">0</text>
<text class="s" x="790" y="603">10<tspan font-size="27" dy="-13">-5</tspan></text><text class="s" x="1245" y="592" text-anchor="middle">1</text><text class="s" x="1380" y="603">10<tspan font-size="27" dy="-13">2</tspan></text>
<text class="s" x="838" y="660" textLength="562" lengthAdjust="spacingAndGlyphs">CO<tspan font-size="27" dy="9">2</tspan><tspan dy="-9"> partial pressure (kPa)</tspan></text>
<path class="dots" d="M902 82h0"/><line class="lb" x1="877" y1="127" x2="932" y2="127"/>
<text class="s l" x="935" y="96" textLength="422" lengthAdjust="spacingAndGlyphs" style="font-size:42px">experimental, 423 K</text><text class="s l" x="935" y="143" textLength="380" lengthAdjust="spacingAndGlyphs" style="font-size:42px">model predictions</text>
</g>
</svg>
